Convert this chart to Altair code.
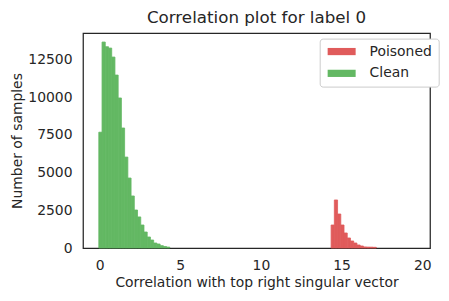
import altair as alt
import pandas as pd

# ---- data ----
bin_width = 0.2
clean_start = -0.05
clean_counts = [7680, 13660, 13350, 13260, 12665, 11470, 9950, 7960, 6030, 4640,
                3450, 2520, 2060, 1525, 1060, 730, 530, 330, 265, 155, 100, 60]
poison_start = 14.35
poison_counts = [1525, 3185, 2255, 1525, 995, 665, 465, 330, 200, 133, 70, 60, 55, 45]

series = ["Poisoned", "Clean"]
colors = ["#e05b5b", "#63b863"]
x_ticks = [0, 5, 10, 15, 20]
y_ticks = [0, 2500, 5000, 7500, 10000, 12500]

rows = []
for name, start, counts in [("Clean", clean_start, clean_counts),
                            ("Poisoned", poison_start, poison_counts)]:
    for i, c in enumerate(counts):
        lo = start + i * bin_width
        rows.append({"series": name, "lo": lo, "hi": lo + bin_width, "count": c})
df = pd.DataFrame(rows)

FONT = "DejaVu Sans"
TXT = "#262626"
FS = 13.9

color_scale = alt.Scale(domain=series, range=colors)

chart = alt.Chart(df).mark_bar(opacity=1, strokeWidth=0.8).encode(
    x=alt.X("lo:Q",
            scale=alt.Scale(domain=[-1.03, 20.48], nice=False, zero=False),
            axis=alt.Axis(values=x_ticks, title="Correlation with top right singular vector",
                          labelPadding=10, titlePadding=4, format="d")),
    x2="hi:Q",
    y=alt.Y("count:Q",
            scale=alt.Scale(domain=[0, 14260], nice=False),
            axis=alt.Axis(values=y_ticks, title="Number of samples",
                          labelPadding=11, titlePadding=3, format="d")),
    y2=alt.datum(0),
    stroke=alt.Stroke("series:N", scale=color_scale, legend=None),
    color=alt.Color("series:N",
                    scale=color_scale,
                    legend=alt.Legend(title=None, orient="none", legendX=236.7, legendY=5.6,
                                      symbolType="M-1,-0.72H4.6V0.72H-1Z", symbolSize=100,
                                      symbolStrokeWidth=0, symbolOpacity=1,
                                      labelOffset=30, rowPadding=6.8, padding=6,
                                      labelExpr="datum.label + ' '",
                                      labelFontSize=FS, labelFont=FONT, labelColor=TXT,
                                      strokeColor="#cccccc", cornerRadius=3,
                                      fillColor="white")),
).properties(
    width=347, height=215,
    title=alt.TitleParams("Correlation plot for label 0", font=FONT, fontSize=16.7,
                          fontWeight="normal", color=TXT, offset=6, anchor="middle"),
    autosize=alt.AutoSizeParams(type="none"),
    padding={"left": 75, "top": 25, "right": 11, "bottom": 45},
).configure_view(
    stroke=TXT, strokeWidth=1.25
).configure_axis(
    domain=False, ticks=False, grid=False,
    labelFont=FONT, labelFontSize=FS, labelColor=TXT,
    titleFont=FONT, titleFontSize=FS, titleFontWeight="normal", titleColor=TXT,
)

chart.save("out.html", embed_options={"renderer": "svg", "actions": False})
